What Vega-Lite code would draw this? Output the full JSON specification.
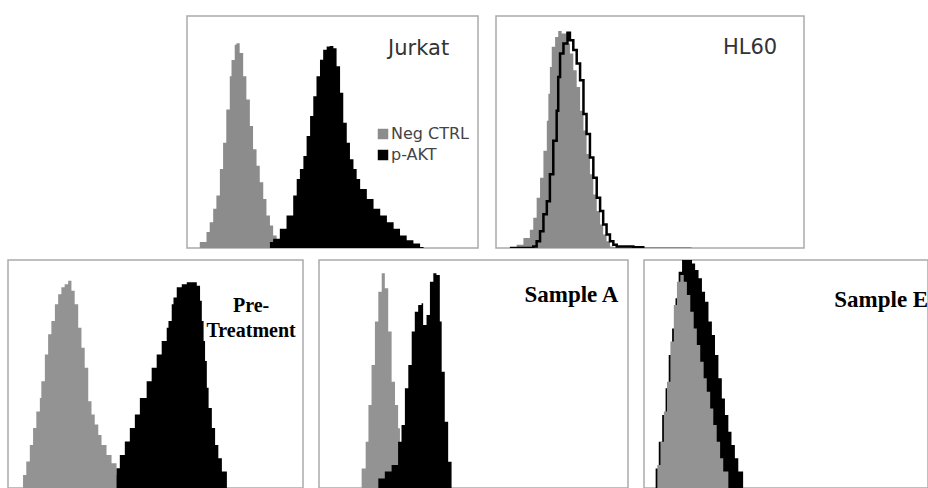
{
  "$schema": "https://vega.github.io/schema/vega-lite/v6.json",
  "padding": {"left": 7, "top": 15, "right": 0, "bottom": 0},
  "background": "#ffffff",
  "config": {
    "view": {"stroke": "#aaaaaa", "strokeWidth": 1.5},
    "axis": {"disable": true}
  },
  "datasets": {
    "jurkat": [
      {"x": 3.8, "n": 0, "s": "Neg CTRL"}, {"x": 4.4, "n": 2.6, "s": "Neg CTRL"}, {"x": 6.7, "n": 6.9, "s": "Neg CTRL"}, {"x": 7.8, "n": 11.1, "s": "Neg CTRL"}, {"x": 9.0, "n": 16.9, "s": "Neg CTRL"}, {"x": 10.1, "n": 22.6, "s": "Neg CTRL"}, {"x": 11.3, "n": 34, "s": "Neg CTRL"}, {"x": 12.4, "n": 45.4, "s": "Neg CTRL"}, {"x": 13.5, "n": 59.7, "s": "Neg CTRL"}, {"x": 14.7, "n": 74, "s": "Neg CTRL"}, {"x": 15.3, "n": 81, "s": "Neg CTRL"}, {"x": 16.4, "n": 87.6, "s": "Neg CTRL"}, {"x": 17.0, "n": 88.3, "s": "Neg CTRL"}, {"x": 18.1, "n": 84, "s": "Neg CTRL"}, {"x": 19.3, "n": 74, "s": "Neg CTRL"}, {"x": 20.4, "n": 64, "s": "Neg CTRL"}, {"x": 21.6, "n": 52.6, "s": "Neg CTRL"}, {"x": 22.7, "n": 42.6, "s": "Neg CTRL"}, {"x": 23.9, "n": 35.4, "s": "Neg CTRL"}, {"x": 25.0, "n": 28.3, "s": "Neg CTRL"}, {"x": 26.2, "n": 21.1, "s": "Neg CTRL"}, {"x": 27.3, "n": 14, "s": "Neg CTRL"}, {"x": 28.5, "n": 9.7, "s": "Neg CTRL"}, {"x": 29.6, "n": 5.4, "s": "Neg CTRL"}, {"x": 30.8, "n": 1.9, "s": "Neg CTRL"}, {"x": 31.3, "n": 0, "s": "Neg CTRL"},
      {"x": 27.3, "n": 0, "s": "p-AKT"}, {"x": 28.5, "n": 2.6, "s": "p-AKT"}, {"x": 29.6, "n": 4, "s": "p-AKT"}, {"x": 31.9, "n": 8.3, "s": "p-AKT"}, {"x": 34.2, "n": 14, "s": "p-AKT"}, {"x": 36.5, "n": 22.6, "s": "p-AKT"}, {"x": 37.7, "n": 29.7, "s": "p-AKT"}, {"x": 38.8, "n": 34, "s": "p-AKT"}, {"x": 40.0, "n": 39.7, "s": "p-AKT"}, {"x": 41.1, "n": 48.3, "s": "p-AKT"}, {"x": 42.3, "n": 56.9, "s": "p-AKT"}, {"x": 43.4, "n": 65.4, "s": "p-AKT"}, {"x": 44.5, "n": 74, "s": "p-AKT"}, {"x": 45.7, "n": 81.1, "s": "p-AKT"}, {"x": 46.8, "n": 85.4, "s": "p-AKT"}, {"x": 48.0, "n": 86.9, "s": "p-AKT"}, {"x": 49.1, "n": 87.1, "s": "p-AKT"}, {"x": 50.3, "n": 86.1, "s": "p-AKT"}, {"x": 51.4, "n": 78.3, "s": "p-AKT"}, {"x": 52.6, "n": 66.9, "s": "p-AKT"}, {"x": 53.7, "n": 54, "s": "p-AKT"}, {"x": 54.9, "n": 45.4, "s": "p-AKT"}, {"x": 56.0, "n": 38.3, "s": "p-AKT"}, {"x": 57.2, "n": 34, "s": "p-AKT"}, {"x": 58.3, "n": 29.7, "s": "p-AKT"}, {"x": 59.5, "n": 25.4, "s": "p-AKT"}, {"x": 61.8, "n": 21.1, "s": "p-AKT"}, {"x": 64.1, "n": 16.9, "s": "p-AKT"}, {"x": 66.4, "n": 14, "s": "p-AKT"}, {"x": 68.7, "n": 11.1, "s": "p-AKT"}, {"x": 71.0, "n": 8.3, "s": "p-AKT"}, {"x": 73.2, "n": 5.4, "s": "p-AKT"}, {"x": 75.5, "n": 3.3, "s": "p-AKT"}, {"x": 77.8, "n": 1.9, "s": "p-AKT"}, {"x": 80.1, "n": 0.4, "s": "p-AKT"}, {"x": 81.3, "n": 0, "s": "p-AKT"}
    ],
    "hl60_neg": [
      {"x": 5.1, "n": 0}, {"x": 6.7, "n": 1.4}, {"x": 8.9, "n": 4.3}, {"x": 11.0, "n": 7.9}, {"x": 12.1, "n": 13.0}, {"x": 13.2, "n": 21.7}, {"x": 14.3, "n": 30.3}, {"x": 15.4, "n": 41.9}, {"x": 16.5, "n": 54.9}, {"x": 17.0, "n": 66.5}, {"x": 17.5, "n": 78.0}, {"x": 18.1, "n": 86.7}, {"x": 19.2, "n": 91.0}, {"x": 20.2, "n": 93.5}, {"x": 21.3, "n": 92.5}, {"x": 22.9, "n": 88.2}, {"x": 24.0, "n": 83.8}, {"x": 25.1, "n": 76.6}, {"x": 26.2, "n": 69.4}, {"x": 27.3, "n": 59.2}, {"x": 28.4, "n": 50.6}, {"x": 29.4, "n": 40.5}, {"x": 30.5, "n": 31.8}, {"x": 31.6, "n": 23.1}, {"x": 32.7, "n": 15.9}, {"x": 33.8, "n": 10.1}, {"x": 34.8, "n": 5.8}, {"x": 35.9, "n": 2.9}, {"x": 37.0, "n": 0.7}, {"x": 38.1, "n": 0.4}, {"x": 63.5, "n": 0}
    ],
    "hl60_pos": [
      {"x": 4.5, "n": 0}, {"x": 12.1, "n": 0.6}, {"x": 13.2, "n": 2.9}, {"x": 14.3, "n": 7.2}, {"x": 15.4, "n": 14.5}, {"x": 16.5, "n": 20.2}, {"x": 17.5, "n": 31.8}, {"x": 18.6, "n": 46.2}, {"x": 19.7, "n": 59.2}, {"x": 20.2, "n": 73.7}, {"x": 20.8, "n": 83.8}, {"x": 21.9, "n": 88.2}, {"x": 23.2, "n": 92.8}, {"x": 24.0, "n": 89.6}, {"x": 25.1, "n": 85.3}, {"x": 26.2, "n": 79.5}, {"x": 27.3, "n": 72.3}, {"x": 28.4, "n": 57.8}, {"x": 29.4, "n": 49.1}, {"x": 30.5, "n": 39.0}, {"x": 31.6, "n": 30.3}, {"x": 32.7, "n": 21.7}, {"x": 33.8, "n": 15.9}, {"x": 34.8, "n": 10.1}, {"x": 35.9, "n": 5.8}, {"x": 37.0, "n": 2.9}, {"x": 38.1, "n": 1.4}, {"x": 39.2, "n": 0.7}, {"x": 44.6, "n": 0.3}, {"x": 47.8, "n": 0}
    ],
    "pre_neg": [
      {"x": 4.0, "n": 0}, {"x": 5.1, "n": 5.7}, {"x": 6.2, "n": 11.6}, {"x": 7.4, "n": 18.9}, {"x": 8.5, "n": 26.3}, {"x": 9.6, "n": 33.6}, {"x": 10.8, "n": 39.5}, {"x": 11.3, "n": 46.8}, {"x": 12.5, "n": 58.6}, {"x": 13.6, "n": 67.4}, {"x": 14.7, "n": 73.3}, {"x": 15.9, "n": 80.6}, {"x": 17.0, "n": 85.0}, {"x": 18.1, "n": 88.0}, {"x": 19.2, "n": 89.4}, {"x": 20.4, "n": 90.9}, {"x": 21.5, "n": 86.5}, {"x": 22.6, "n": 80.6}, {"x": 23.8, "n": 70.3}, {"x": 24.9, "n": 61.5}, {"x": 26.0, "n": 52.7}, {"x": 27.2, "n": 38.0}, {"x": 28.3, "n": 32.2}, {"x": 29.4, "n": 27.8}, {"x": 30.6, "n": 23.3}, {"x": 31.7, "n": 18.9}, {"x": 33.4, "n": 14.5}, {"x": 35.1, "n": 10.9}, {"x": 36.8, "n": 5.7}, {"x": 37.9, "n": 0}
    ],
    "pre_pos": [
      {"x": 36.2, "n": 0}, {"x": 36.8, "n": 8.7}, {"x": 37.9, "n": 14.5}, {"x": 39.6, "n": 20.4}, {"x": 41.3, "n": 26.3}, {"x": 43.0, "n": 32.2}, {"x": 44.7, "n": 39.5}, {"x": 47.0, "n": 46.8}, {"x": 48.7, "n": 52.7}, {"x": 50.4, "n": 58.6}, {"x": 52.1, "n": 64.5}, {"x": 53.8, "n": 70.3}, {"x": 54.4, "n": 73.3}, {"x": 55.5, "n": 80.6}, {"x": 56.1, "n": 83.6}, {"x": 57.2, "n": 88.0}, {"x": 58.9, "n": 89.4}, {"x": 60.6, "n": 90.2}, {"x": 62.3, "n": 90.2}, {"x": 64.0, "n": 88.7}, {"x": 65.1, "n": 82.1}, {"x": 65.7, "n": 73.3}, {"x": 66.3, "n": 64.5}, {"x": 66.8, "n": 55.7}, {"x": 67.4, "n": 44.0}, {"x": 68.0, "n": 35.1}, {"x": 69.1, "n": 26.3}, {"x": 70.2, "n": 18.9}, {"x": 71.3, "n": 13.1}, {"x": 72.5, "n": 7.2}, {"x": 74.2, "n": 0}
    ],
    "a_neg": [
      {"x": 12.7, "n": 0}, {"x": 13.8, "n": 8.6}, {"x": 15.1, "n": 20.3}, {"x": 16.0, "n": 36.4}, {"x": 17.0, "n": 53.9}, {"x": 18.1, "n": 73.0}, {"x": 19.2, "n": 86.1}, {"x": 20.3, "n": 94.2}, {"x": 21.3, "n": 87.6}, {"x": 22.4, "n": 68.6}, {"x": 23.5, "n": 46.6}, {"x": 24.6, "n": 36.4}, {"x": 25.6, "n": 26.2}, {"x": 26.2, "n": 14.5}, {"x": 26.7, "n": 0}
    ],
    "a_pos": [
      {"x": 18.6, "n": 0}, {"x": 19.2, "n": 4.2}, {"x": 21.3, "n": 7.2}, {"x": 23.5, "n": 10.1}, {"x": 25.6, "n": 20.3}, {"x": 26.7, "n": 27.6}, {"x": 27.8, "n": 43.7}, {"x": 28.9, "n": 53.9}, {"x": 30.0, "n": 68.6}, {"x": 31.0, "n": 77.3}, {"x": 32.1, "n": 80.3}, {"x": 33.2, "n": 81.0}, {"x": 33.7, "n": 71.5}, {"x": 34.8, "n": 75.9}, {"x": 35.9, "n": 90.5}, {"x": 37.0, "n": 94.2}, {"x": 38.0, "n": 93.4}, {"x": 39.1, "n": 73.0}, {"x": 39.7, "n": 51.0}, {"x": 40.7, "n": 29.1}, {"x": 41.8, "n": 11.5}, {"x": 42.9, "n": 0}
    ],
    "e_neg": [
      {"x": 3.5, "n": 0}, {"x": 4.7, "n": 10.1}, {"x": 5.8, "n": 20.3}, {"x": 7.0, "n": 33.5}, {"x": 8.1, "n": 46.6}, {"x": 9.3, "n": 64.2}, {"x": 10.5, "n": 80.3}, {"x": 11.6, "n": 90.5}, {"x": 12.8, "n": 93.4}, {"x": 14.0, "n": 90.5}, {"x": 15.1, "n": 84.6}, {"x": 16.3, "n": 77.3}, {"x": 17.5, "n": 70.0}, {"x": 18.6, "n": 62.7}, {"x": 19.8, "n": 55.4}, {"x": 21.0, "n": 48.1}, {"x": 22.1, "n": 42.2}, {"x": 23.3, "n": 34.9}, {"x": 24.4, "n": 27.6}, {"x": 25.6, "n": 20.3}, {"x": 26.8, "n": 13.0}, {"x": 27.9, "n": 7.2}, {"x": 29.7, "n": 0}
    ],
    "e_pos": [
      {"x": 2.9, "n": 0}, {"x": 4.1, "n": 8.6}, {"x": 5.2, "n": 20.3}, {"x": 6.4, "n": 32.0}, {"x": 7.6, "n": 43.7}, {"x": 8.7, "n": 58.3}, {"x": 9.9, "n": 70.0}, {"x": 11.1, "n": 83.2}, {"x": 12.2, "n": 94.9}, {"x": 13.4, "n": 100}, {"x": 15.7, "n": 100}, {"x": 16.9, "n": 98.5}, {"x": 18.0, "n": 95.6}, {"x": 19.2, "n": 92.0}, {"x": 20.4, "n": 86.1}, {"x": 21.5, "n": 81.7}, {"x": 22.7, "n": 73.0}, {"x": 23.9, "n": 67.1}, {"x": 25.0, "n": 58.3}, {"x": 26.2, "n": 48.1}, {"x": 27.4, "n": 39.3}, {"x": 28.5, "n": 32.0}, {"x": 29.7, "n": 24.7}, {"x": 30.8, "n": 18.9}, {"x": 32.0, "n": 13.0}, {"x": 33.2, "n": 7.2}, {"x": 34.9, "n": 0}
    ],
    "titles": [
      {"panel": "jurkat", "label": "Jurkat", "x": 69.1, "y": 83.2},
      {"panel": "hl60", "label": "HL60", "x": 73.7, "y": 83.5},
      {"panel": "pre", "label": "Pre-\nTreatment", "x": 82.4, "y": 77.3},
      {"panel": "a", "label": "Sample A", "x": 66.5, "y": 81.7},
      {"panel": "e", "label": "Sample E", "x": 67.0, "y": 79.5}
    ]
  },
  "resolve": {"scale": {"color": "independent"}, "legend": {"color": "independent"}},
  "spacing": 10,
  "vconcat": [
    {
      "spacing": 16,
      "resolve": {"scale": {"color": "independent"}, "legend": {"color": "independent"}},
      "hconcat": [
        {
          "width": 162, "height": 232,
          "view": {"stroke": null},
          "data": {"values": []},
          "mark": "point",
          "encoding": {}
        },
        {
          "width": 291, "height": 232,
          "layer": [
            {
              "data": {"name": "jurkat"},
              "mark": {"type": "area", "interpolate": "step-after", "clip": true},
              "encoding": {
                "x": {"field": "x", "type": "quantitative", "scale": {"domain": [0, 100], "nice": false}, "axis": null},
                "y": {"field": "n", "type": "quantitative", "stack": null, "scale": {"domain": [0, 100], "nice": false}, "axis": null},
                "color": {
                  "field": "s", "type": "nominal",
                  "scale": {"domain": ["Neg CTRL", "p-AKT"], "range": ["#8c8c8c", "#000000"]},
                  "legend": {
                    "orient": "none", "legendX": 188, "legendY": 110, "title": null,
                    "symbolType": "square", "symbolSize": 110, "symbolStrokeWidth": 0, "symbolOpacity": 1,
                    "labelFont": "DejaVu Sans", "labelFontSize": 16, "labelColor": "#444444",
                    "labelOffset": 0, "rowPadding": 5, "padding": 0
                  }
                }
              }
            },
            {
              "data": {"name": "titles"},
              "transform": [{"filter": "datum.panel === 'jurkat'"}],
              "mark": {"type": "text", "align": "left", "baseline": "alphabetic", "font": "DejaVu Sans", "fontSize": 21, "color": "#333333"},
              "encoding": {
                "x": {"field": "x", "type": "quantitative", "scale": {"domain": [0, 100], "nice": false}, "axis": null},
                "y": {"field": "y", "type": "quantitative", "scale": {"domain": [0, 100], "nice": false}, "axis": null},
                "text": {"field": "label"}
              }
            }
          ]
        },
        {
          "width": 308, "height": 232,
          "encoding": {
            "x": {"field": "x", "type": "quantitative", "scale": {"domain": [0, 100], "nice": false}, "axis": null},
            "y": {"field": "n", "type": "quantitative", "scale": {"domain": [0, 100], "nice": false}, "axis": null}
          },
          "layer": [
            {"data": {"name": "hl60_neg"}, "mark": {"type": "area", "interpolate": "step-after", "color": "#8c8c8c", "clip": true}},
            {"data": {"name": "hl60_pos"}, "mark": {"type": "line", "interpolate": "step-after", "color": "#000000", "strokeWidth": 2.5, "clip": true}},
            {
              "data": {"name": "titles"},
              "transform": [{"filter": "datum.panel === 'hl60'"}],
              "mark": {"type": "text", "align": "left", "baseline": "alphabetic", "font": "DejaVu Sans", "fontSize": 21, "color": "#333333"},
              "encoding": {
                "y": {"field": "y", "type": "quantitative", "scale": {"domain": [0, 100], "nice": false}, "axis": null},
                "text": {"field": "label"}
              }
            }
          ]
        }
      ]
    },
    {
      "spacing": 14,
      "hconcat": [
        {
          "width": 295, "height": 228,
          "encoding": {
            "x": {"field": "x", "type": "quantitative", "scale": {"domain": [0, 100], "nice": false}, "axis": null},
            "y": {"field": "n", "type": "quantitative", "scale": {"domain": [0, 100], "nice": false}, "axis": null}
          },
          "layer": [
            {"data": {"name": "pre_neg"}, "mark": {"type": "area", "interpolate": "step-after", "color": "#939393", "clip": true}},
            {"data": {"name": "pre_pos"}, "mark": {"type": "area", "interpolate": "step-after", "color": "#000000", "clip": true}},
            {
              "data": {"name": "titles"},
              "transform": [{"filter": "datum.panel === 'pre'"}],
              "mark": {"type": "text", "align": "center", "baseline": "alphabetic", "lineBreak": "\n", "lineHeight": 25, "font": "Liberation Serif", "fontWeight": "bold", "fontSize": 20, "color": "#000000"},
              "encoding": {
                "y": {"field": "y", "type": "quantitative", "scale": {"domain": [0, 100], "nice": false}, "axis": null},
                "text": {"field": "label"}
              }
            }
          ]
        },
        {
          "width": 309, "height": 228,
          "encoding": {
            "x": {"field": "x", "type": "quantitative", "scale": {"domain": [0, 100], "nice": false}, "axis": null},
            "y": {"field": "n", "type": "quantitative", "scale": {"domain": [0, 100], "nice": false}, "axis": null}
          },
          "layer": [
            {"data": {"name": "a_neg"}, "mark": {"type": "area", "interpolate": "step-after", "color": "#939393", "clip": true}},
            {"data": {"name": "a_pos"}, "mark": {"type": "area", "interpolate": "step-after", "color": "#000000", "clip": true}},
            {
              "data": {"name": "titles"},
              "transform": [{"filter": "datum.panel === 'a'"}],
              "mark": {"type": "text", "align": "left", "baseline": "alphabetic", "font": "Liberation Serif", "fontWeight": "bold", "fontSize": 23, "color": "#000000"},
              "encoding": {
                "y": {"field": "y", "type": "quantitative", "scale": {"domain": [0, 100], "nice": false}, "axis": null},
                "text": {"field": "label"}
              }
            }
          ]
        },
        {
          "width": 284, "height": 228,
          "encoding": {
            "x": {"field": "x", "type": "quantitative", "scale": {"domain": [0, 100], "nice": false}, "axis": null},
            "y": {"field": "n", "type": "quantitative", "scale": {"domain": [0, 100], "nice": false}, "axis": null}
          },
          "layer": [
            {"data": {"name": "e_pos"}, "mark": {"type": "area", "interpolate": "step-after", "color": "#000000", "clip": true}},
            {"data": {"name": "e_neg"}, "mark": {"type": "area", "interpolate": "step-after", "color": "#939393", "clip": true}},
            {
              "data": {"name": "titles"},
              "transform": [{"filter": "datum.panel === 'e'"}],
              "mark": {"type": "text", "align": "left", "baseline": "alphabetic", "font": "Liberation Serif", "fontWeight": "bold", "fontSize": 23, "color": "#000000", "clip": true},
              "encoding": {
                "y": {"field": "y", "type": "quantitative", "scale": {"domain": [0, 100], "nice": false}, "axis": null},
                "text": {"field": "label"}
              }
            }
          ]
        }
      ]
    }
  ]
}
